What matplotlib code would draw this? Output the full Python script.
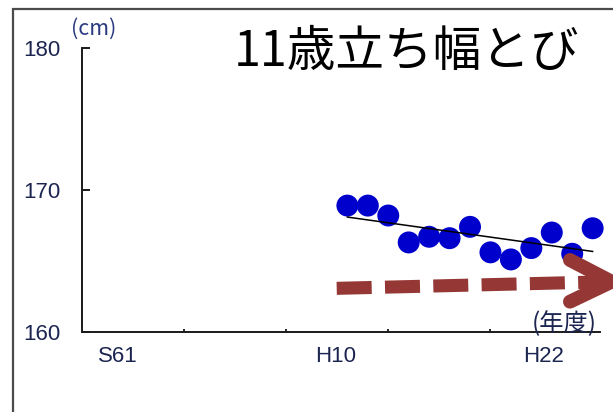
import numpy as np
import matplotlib
matplotlib.use("Agg")
import matplotlib.pyplot as plt
from matplotlib.patches import Rectangle

plt.rcParams['font.family'] = ['Noto Sans CJK JP', 'DejaVu Sans']

# 11-year-old standing broad jump, yearly mean (cm), H10 (1998) to H22 (2010)
years = np.arange(1998, 2011)
jump_cm = [168.9, 168.9, 168.2, 166.3, 166.7, 166.6, 167.4,
           165.6, 165.1, 165.9, 167.0, 165.5, 167.3]

# era-year tick labels and where they sit on the year axis
era_labels = ["S61", "H10", "H22"]
era_label_pos = [1986.75, 1997.43, 2007.58]
major_ticks = [1990, 1995, 2000, 2005]
y_ticks = [160, 170, 180]

title = "11歳立ち幅とび"
label_color = "#1c2550"
dot_color = "#0000cc"
arrow_color = "#953735"

fig = plt.figure(figsize=(6.13, 4.12), dpi=100)

# outer frame (left and top edges visible, the rest runs off the canvas)
fig.patches.append(Rectangle((13 / 613, -0.1), 1.2, 1.1 - 8.7 / 412,
                             transform=fig.transFigure, fill=False,
                             edgecolor="#4a4a4a", linewidth=1.6, zorder=0))

ax = fig.add_axes([81.7 / 613, 80.3 / 412, 518.3 / 613, 283.4 / 412])
ax.set_xlim(1985, 2010.36)
ax.set_ylim(160, 180)

for side in ("top", "right"):
    ax.spines[side].set_visible(False)
for side in ("left", "bottom"):
    ax.spines[side].set_linewidth(1.4)
    ax.spines[side].set_color("#1a1a1a")

ax.set_yticks(y_ticks)
ax.set_yticklabels([str(v) for v in y_ticks], family=['Liberation Sans'],
                   fontsize=16, color=label_color)
ax.tick_params(axis="y", direction="in", length=6, width=1.4, pad=15.5,
               color="#1a1a1a")

ax.set_xticks(major_ticks)
ax.set_xticklabels([])
ax.tick_params(axis="x", which="major", direction="in", length=2.2, width=1.3,
               color="#1a1a1a")
ax.set_xticks(era_label_pos, minor=True)
ax.set_xticklabels(era_labels, minor=True, family=['Liberation Sans'],
                   fontsize=16, color=label_color)
ax.tick_params(axis="x", which="minor", length=0, pad=10)

# data points and their linear trend
ax.scatter(years, jump_cm, s=250, color=dot_color, edgecolors="none",
           zorder=3, clip_on=False)
coef = np.polyfit(years, jump_cm, 1)
trend_x = np.array([years[0], years[-1]])
ax.plot(trend_x, np.polyval(coef, trend_x), color="black", linewidth=1.1,
        zorder=4)

# downward-trend arrow: dashed shaft plus an open chevron head
ax.plot([0.492, 1.020], [0.153, 0.1764], transform=ax.transAxes,
        color=arrow_color, linewidth=9.4, dashes=(2.68, 1.02),
        solid_capstyle="butt", dash_capstyle="butt", clip_on=False, zorder=5)
ax.plot([0.942, 1.0226, 0.942], [0.253, 0.1764, 0.106],
        transform=ax.transAxes, color=arrow_color, linewidth=10,
        solid_capstyle="round", solid_joinstyle="miter", clip_on=False,
        zorder=5)

fig.text(94 / 613, 1 - 29 / 412, "(cm)", ha="center", va="center",
         fontsize=15.5, color="#2a3a80")
fig.text(564 / 613, 1 - 324 / 412, "(年度)", ha="center", va="center",
         fontsize=17.5, color=label_color)
fig.text(406.5 / 613, 1 - 52 / 412, title, ha="center", va="center",
         fontsize=35, color="black")

fig.savefig("out.png", dpi=100)
